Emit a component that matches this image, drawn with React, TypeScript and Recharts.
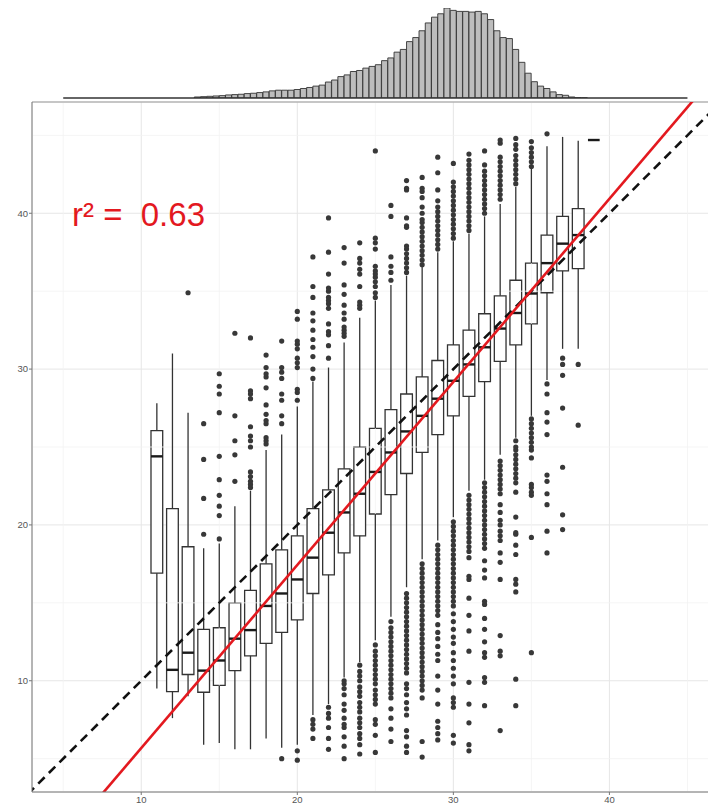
import React from "react";
import {
  ComposedChart,
  Bar,
  Scatter,
  XAxis,
  YAxis,
  CartesianGrid,
  ReferenceArea,
  ReferenceLine,
} from "recharts";

// box plot per observed value (x = category)
const categories = [11, 12, 13, 14, 15, 16, 17, 18, 19, 20, 21, 22, 23, 24, 25, 26, 27, 28, 29, 30, 31, 32, 33, 34, 35, 36, 37, 38, 39];
const whiskerLow = [9.5, 7.6, 9.0, 5.9, 6.0, 5.6, 5.6, 6.3, 5.7, 5.9, 7.8, 8.5, 10.2, 11.2, 12.6, 14.1, 16.0, 17.8, 19.0, 20.5, 22.2, 22.9, 24.5, 25.6, 27.0, 29.3, 31.3, 31.3, 44.7];
const q1 = [16.9, 9.3, 10.4, 9.26, 9.7, 10.65, 11.6, 12.4, 13.1, 13.9, 15.6, 16.8, 18.2, 19.3, 20.7, 21.95, 23.3, 24.65, 25.8, 27.0, 28.25, 29.2, 30.5, 31.55, 32.9, 34.9, 36.3, 36.45, 44.7];
const medians = [24.4, 10.7, 11.8, 10.65, 11.3, 12.7, 13.25, 14.8, 15.6, 16.5, 17.9, 19.5, 20.8, 22.0, 23.4, 24.65, 26.0, 27.0, 28.1, 29.25, 30.3, 31.4, 32.6, 33.6, 34.85, 36.8, 38.05, 38.6, 44.7];
const q3 = [26.05, 21.05, 18.6, 13.3, 13.4, 15.0, 15.8, 17.5, 18.4, 19.3, 21.05, 22.25, 23.6, 25.0, 26.2, 27.4, 28.4, 29.5, 30.55, 31.55, 32.5, 33.55, 34.7, 35.7, 36.8, 38.6, 39.8, 40.3, 44.7];
const whiskerHigh = [27.8, 31.0, 27.2, 18.5, 18.8, 21.2, 22.2, 24.8, 25.8, 27.6, 29.2, 30.1, 31.7, 33.3, 34.4, 35.4, 36.0, 36.55, 37.5, 38.2, 38.7, 39.8, 40.6, 41.7, 42.9, 44.3, 44.9, 44.65, 44.7];
const outliers = [
  [],
  [],
  [34.9],
  [19.4, 21.7, 24.2, 26.5],
  [19.1, 20.6, 21.2, 21.9, 22.9, 24.4, 27.2, 28.4, 28.9, 29.7],
  [22.8, 24.5, 25.4, 27.0, 32.3],
  [22.4, 22.6, 22.8, 23.1, 23.4, 25.0, 25.4, 25.7, 26.3, 28.1, 28.4, 28.6, 32.0],
  [25.2, 25.4, 25.6, 26.5, 26.7, 27.1, 27.7, 28.8, 29.5, 29.7, 30.1, 30.9],
  [5.0, 26.5, 27.0, 28.0, 28.4, 29.4, 29.8, 30.1, 31.8],
  [4.9, 5.5, 28.0, 28.5, 28.7, 30.1, 30.4, 30.7, 31.3, 31.6, 31.8, 33.2, 33.7],
  [6.3, 6.9, 7.2, 7.5, 29.4, 30.0, 30.8, 31.4, 31.9, 32.5, 33.1, 33.6, 34.6, 35.3, 37.2],
  [5.6, 6.3, 7.0, 7.6, 7.9, 8.3, 30.7, 31.5, 32.2, 32.4, 32.9, 33.9, 34.2, 34.4, 34.6, 35.0, 35.2, 36.1, 37.5, 39.7],
  [5.0, 5.8, 6.4, 7.0, 7.2, 7.6, 8.1, 8.5, 9.1, 9.5, 9.8, 10.0, 32.1, 32.3, 32.5, 32.7, 33.2, 33.6, 34.1, 34.8, 35.4, 36.8, 37.8],
  [5.3, 5.9, 6.3, 6.6, 7.0, 7.3, 7.6, 8.0, 8.3, 8.6, 9.0, 9.3, 9.6, 10.0, 10.3, 10.6, 11.0, 33.9, 34.1, 34.3, 35.3, 36.1, 36.4, 36.8, 37.1, 38.1],
  [5.4, 6.5, 7.2, 7.5, 8.5, 8.8, 9.1, 9.4, 9.8, 10.1, 10.4, 10.7, 11.0, 11.3, 11.6, 11.9, 12.3, 34.6, 34.9, 35.3, 35.6, 35.9, 36.1, 36.3, 36.6, 37.7, 38.1, 38.4, 44.0],
  [6.1, 6.9, 7.6, 8.2, 8.9, 9.2, 9.5, 9.8, 10.1, 10.4, 10.7, 11.0, 11.3, 11.6, 11.9, 12.2, 12.5, 12.8, 13.1, 13.4, 13.8, 35.7, 36.2, 36.6, 37.2, 39.8, 40.5],
  [5.4, 5.8, 6.4, 6.8, 7.8, 8.2, 8.6, 9.1, 9.5, 9.8, 10.5, 10.8, 11.1, 11.4, 11.7, 12.0, 12.3, 12.6, 12.9, 13.2, 13.5, 13.8, 14.1, 14.4, 14.7, 15.0, 15.3, 15.6, 36.2, 36.5, 36.8, 37.1, 37.4, 37.7, 37.9, 39.1, 39.2, 39.7, 41.5, 41.6, 42.1],
  [5.1, 6.1, 8.9, 9.4, 9.7, 10.0, 10.3, 10.6, 10.9, 11.2, 11.5, 11.8, 12.1, 12.4, 12.7, 13.0, 13.3, 13.6, 13.9, 14.2, 14.5, 14.8, 15.1, 15.4, 15.7, 16.0, 16.3, 16.6, 16.9, 17.2, 17.5, 36.7, 37.0, 37.3, 37.6, 37.9, 38.2, 38.5, 38.8, 39.1, 39.4, 39.6, 40.0, 40.4, 41.0, 41.4, 41.6, 42.3],
  [6.2, 6.6, 7.0, 7.4, 8.5, 9.4, 10.3, 11.3, 11.7, 12.2, 12.7, 13.1, 13.6, 14.2, 14.5, 14.8, 15.1, 15.4, 15.7, 16.0, 16.3, 16.6, 16.9, 17.2, 17.5, 17.8, 18.1, 18.4, 18.7, 37.7, 38.0, 38.3, 38.6, 38.9, 39.2, 39.5, 39.8, 40.1, 40.4, 40.8, 41.5, 42.6, 43.6],
  [6.0, 6.5, 8.3, 8.6, 8.9, 9.8, 10.3, 10.8, 11.3, 11.8, 12.4, 12.8, 13.3, 13.8, 14.3, 14.8, 15.1, 15.4, 15.7, 16.0, 16.3, 16.6, 16.9, 17.2, 17.5, 17.8, 18.1, 18.4, 18.7, 19.0, 19.3, 19.6, 19.9, 20.2, 38.4, 38.7, 39.0, 39.3, 39.6, 39.9, 40.2, 40.5, 40.8, 41.1, 41.4, 41.7, 42.0, 43.2],
  [5.5, 5.9, 7.3, 8.5, 9.9, 11.9, 13.2, 14.2, 15.3, 16.5, 16.7, 17.9, 18.3, 18.6, 18.9, 19.2, 19.5, 19.8, 20.1, 20.4, 20.7, 21.0, 21.3, 21.6, 21.9, 38.9, 39.2, 39.5, 39.8, 40.1, 40.4, 40.7, 41.0, 41.3, 41.6, 41.9, 42.2, 42.5, 42.8, 43.1, 43.4, 43.8],
  [8.4, 9.9, 10.2, 11.5, 11.8, 12.5, 13.3, 14.0, 14.9, 15.1, 16.6, 17.1, 17.7, 18.5, 18.8, 19.1, 19.4, 19.7, 20.0, 20.3, 20.6, 20.9, 21.2, 21.5, 21.8, 22.1, 22.4, 22.7, 40.0, 40.3, 40.6, 40.9, 41.2, 41.5, 41.8, 42.1, 42.4, 42.7, 43.1, 44.0],
  [6.8, 11.6, 11.9, 12.9, 16.5, 17.6, 18.2, 19.0, 19.3, 19.6, 20.0, 20.3, 20.8, 21.3, 22.0, 22.3, 22.6, 22.9, 23.2, 23.5, 23.8, 24.1, 40.9, 41.2, 41.5, 41.8, 42.1, 42.4, 42.7, 43.0, 43.3, 43.6, 44.5, 44.7],
  [8.4, 10.1, 15.7, 16.2, 16.5, 18.1, 18.7, 19.4, 19.5, 20.5, 22.1, 22.7, 23.0, 23.3, 23.6, 23.9, 24.2, 24.5, 24.8, 25.0, 25.4, 41.9, 42.2, 42.5, 42.8, 43.1, 43.4, 43.7, 44.1, 44.4, 44.8],
  [11.8, 19.2, 21.9, 22.1, 22.4, 22.6, 24.3, 24.8, 25.0, 25.3, 25.6, 25.9, 26.2, 26.5, 26.8, 43.0, 43.3, 43.6, 43.9, 44.2, 44.6],
  [18.2, 19.6, 21.3, 22.0, 22.8, 23.2, 25.8, 26.6, 27.2, 28.4, 29.05, 45.1],
  [19.7, 20.65, 23.7, 27.5, 29.6, 30.3, 30.7],
  [26.4, 30.3],
  [],
];

// marginal histogram, bins of 0.4 starting at 5
const histStart = 5;
const histBinWidth = 0.4;
const histCounts = [
  0, 0, 0, 0, 0, 0, 0, 0, 0, 0, 0, 0, 0, 0, 0, 0, 0, 0, 0, 0, 0,
  30, 40, 50, 60, 70, 90, 100, 110, 130, 140, 160, 180, 210, 230, 230, 230, 250, 280, 310, 350,
  380, 470, 530, 630, 680, 780, 810, 880, 930, 980, 1100, 1180, 1350, 1430, 1660, 1780, 1980, 2210, 2380, 2480,
  2650, 2580, 2550, 2550, 2530, 2550, 2480, 2310, 1980, 1780, 1750, 1430, 1050, 730, 480, 350, 280, 180, 100, 80,
  30, 10, 5,
  0, 0, 0, 0, 0, 0, 0, 0, 0, 0, 0, 0, 0, 0, 0, 0,
];

const xTicks = [10, 20, 30, 40];
const yTicks = [10, 20, 30, 40];
const minorTicks = [5, 15, 25, 35, 45];

const fitSlope = 1.175;
const fitIntercept = -6.07;
const rSquared = "0.63";

const X_DOMAIN: [number, number] = [3, 47.15];
const Y_DOMAIN: [number, number] = [2.86, 47.14];
const HALF = 0.375;
const FONT = "'Liberation Sans', Arial, Helvetica, sans-serif";
const RED = "#e3191f";

const histData = histCounts.map((count, i) => ({ x: histStart + histBinWidth * (i + 0.5), count }));
const outlierPoints = categories.flatMap((c, i) => outliers[i].map((y) => ({ x: c, y })));

const tickStyle = { fontSize: 9.5, fill: "#555", fontFamily: FONT };

export default function App() {
  return (
    <div style={{ position: "fixed", left: 0, top: 0, width: 708, height: 806, overflow: "hidden", background: "#fff" }}>
      <div style={{ position: "absolute", left: 0, top: 0 }}>
        <ComposedChart width={721} height={806} margin={{ top: 102, right: 0, bottom: 0, left: 0 }}>
          <CartesianGrid stroke="#e6e6e6" strokeWidth={1} />
          {minorTicks.map((v) => (
            <ReferenceLine key={"mx" + v} x={v} stroke="#f3f3f3" strokeWidth={0.8} ifOverflow="hidden" />
          ))}
          {minorTicks.map((v) => (
            <ReferenceLine key={"my" + v} y={v} stroke="#f3f3f3" strokeWidth={0.8} ifOverflow="hidden" />
          ))}
          <XAxis
            type="number"
            dataKey="x"
            domain={X_DOMAIN}
            ticks={xTicks}
            allowDataOverflow
            height={14}
            tickSize={3}
            tickMargin={1}
            tick={tickStyle}
            stroke="#777"
          />
          <YAxis
            type="number"
            dataKey="y"
            domain={Y_DOMAIN}
            ticks={yTicks}
            allowDataOverflow
            width={32}
            tickSize={3}
            tickMargin={1}
            tick={tickStyle}
            stroke="#777"
          />
          <ReferenceLine y={Y_DOMAIN[1]} stroke="#999" strokeWidth={1} ifOverflow="visible" />

          {categories.map((c, i) => (
            <ReferenceLine
              key={"wl" + c}
              segment={[{ x: c, y: whiskerLow[i] }, { x: c, y: q1[i] }]}
              stroke="#333"
              strokeWidth={1.3}
              ifOverflow="visible"
            />
          ))}
          {categories.map((c, i) => (
            <ReferenceLine
              key={"wh" + c}
              segment={[{ x: c, y: q3[i] }, { x: c, y: whiskerHigh[i] }]}
              stroke="#333"
              strokeWidth={1.3}
              ifOverflow="visible"
            />
          ))}
          {categories.map((c, i) => (
            <ReferenceArea
              key={"box" + c}
              x1={c - HALF}
              x2={c + HALF}
              y1={q1[i]}
              y2={q3[i]}
              fill="#fff"
              fillOpacity={1}
              stroke="#333"
              strokeWidth={1.3}
              ifOverflow="visible"
            />
          ))}
          {categories.map((c, i) => (
            <ReferenceLine
              key={"md" + c}
              segment={[{ x: c - HALF, y: medians[i] }, { x: c + HALF, y: medians[i] }]}
              stroke="#1a1a1a"
              strokeWidth={2.4}
              ifOverflow="visible"
            />
          ))}

          <Scatter
            data={outlierPoints}
            dataKey="y"
            isAnimationActive={false}
            shape={(p: any) => <circle cx={p.cx} cy={p.cy} r={2.6} fill="#383838" />}
          />

          <ReferenceLine
            segment={[{ x: 0, y: 0 }, { x: 50, y: 50 }]}
            stroke="#111"
            strokeWidth={2.6}
            strokeDasharray="9 6"
            ifOverflow="hidden"
          />
          <ReferenceLine
            segment={[
              { x: 4, y: fitSlope * 4 + fitIntercept },
              { x: 50, y: fitSlope * 50 + fitIntercept },
            ]}
            stroke={RED}
            strokeWidth={2.6}
            ifOverflow="hidden"
          />
        </ComposedChart>
      </div>

      <div style={{ position: "absolute", left: 0, top: 0 }}>
        <ComposedChart
          width={721}
          height={102}
          data={histData}
          margin={{ top: 8, right: 0, bottom: 4, left: 32 }}
          barCategoryGap={0}
          barGap={0}
        >
          <XAxis type="number" dataKey="x" domain={X_DOMAIN} allowDataOverflow hide />
          <YAxis type="number" domain={[0, 2650]} allowDataOverflow hide />
          <Bar dataKey="count" fill="#bdbdbd" stroke="#333" strokeWidth={0.9} isAnimationActive={false} />
          <ReferenceLine
            segment={[{ x: histStart, y: 0 }, { x: histStart + histBinWidth * histCounts.length, y: 0 }]}
            stroke="#333"
            strokeWidth={1.6}
            ifOverflow="visible"
          />
        </ComposedChart>
      </div>

      <div
        style={{
          position: "absolute",
          left: 72,
          top: 198,
          fontFamily: FONT,
          fontSize: 33,
          lineHeight: "33px",
          color: RED,
          whiteSpace: "pre",
        }}
      >
        {"r² =  " + rSquared}
      </div>
    </div>
  );
}
